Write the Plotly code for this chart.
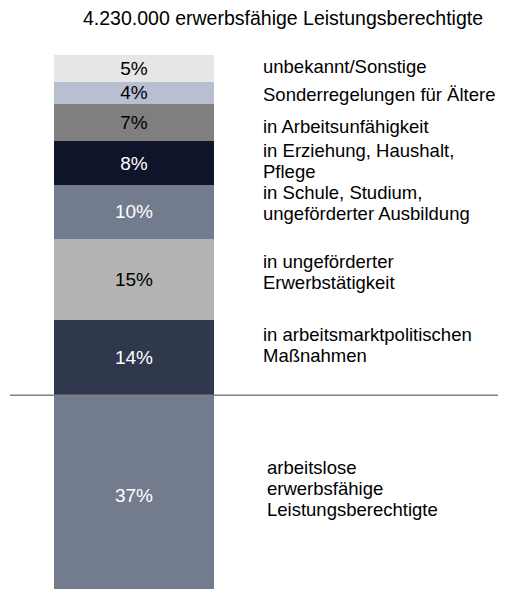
import plotly.graph_objects as go

# Data (bottom to top)
categories = [
    ["arbeitslose", "erwerbsfähige", "Leistungsberechtigte"],
    ["in arbeitsmarktpolitischen", "Maßnahmen"],
    ["in ungeförderter", "Erwerbstätigkeit"],
    ["in Schule, Studium,", "ungeförderter Ausbildung"],
    ["in Erziehung, Haushalt,", "Pflege"],
    ["in Arbeitsunfähigkeit"],
    ["Sonderregelungen für Ältere"],
    ["unbekannt/Sonstige"],
]
shares = [37, 14, 15, 10, 8, 7, 4, 5]
pct_labels = ["37%", "14%", "15%", "10%", "8%", "7%", "4%", "5%"]
title_text = "4.230.000 erwerbsfähige Leistungsberechtigte"

# Styles
colors = ["#737b8e", "#30384d", "#b3b3b3", "#737b8e", "#0e1429", "#7f7f7f", "#b8bfd1", "#e6e6e6"]
text_colors = ["white", "white", "black", "white", "white", "black", "black", "black"]
OFF = 8  # page body margin
label_x = [265, 261, 261, 261, 261, 261, 261, 261]
label_shift = [-7, -12, -7, -9, -2, 4, 2, -2]   # px offset from segment mid (negative = up)
LINE_H = 21

W, H = 506, 589
FONT = "Arial, Liberation Sans, sans-serif"
PX_PER_UNIT = 5.4
y_hi = 100 + (55 - OFF) / PX_PER_UNIT
y_lo = y_hi - H / PX_PER_UNIT

fig = go.Figure()
for lines, v, t, c, tc in zip(categories, shares, pct_labels, colors, text_colors):
    fig.add_trace(go.Bar(
        x=["bar"], y=[v], text=[t], name=" ".join(lines),
        marker=dict(color=c, line=dict(width=0)),
        textposition="inside", insidetextanchor="middle", textangle=0,
        constraintext="none",
        textfont=dict(color=tc, size=19, family=FONT),
        hoverinfo="skip",
    ))

cum = 0
annotations = []
for lines, v, lx, sh in zip(categories, shares, label_x, label_shift):
    mid = cum + v / 2
    cum += v
    n = len(lines)
    for i, ln in enumerate(lines):
        dy = sh + (i - (n - 1) / 2) * LINE_H
        annotations.append(dict(
            x=(lx - OFF) / W, xref="paper", y=mid, yref="y", yshift=-dy,
            text=ln, showarrow=False, xanchor="left", yanchor="middle", align="left",
            font=dict(size=18.5, color="black", family=FONT),
        ))
annotations.append(dict(
    x=(283 - OFF) / W, xref="paper", y=1 - (18 - OFF) / H, yref="paper", text=title_text,
    showarrow=False, xanchor="center", yanchor="middle",
    font=dict(size=19.5, color="black", family=FONT),
))

fig.add_shape(type="line", xref="paper", yref="y", x0=(10 - OFF) / W, x1=1, y0=shares[0], y1=shares[0],
              line=dict(color="#808080", width=1.5))

fig.update_layout(
    width=W, height=H, barmode="stack", showlegend=False,
    margin=dict(l=0, r=0, t=0, b=0),
    paper_bgcolor="white", plot_bgcolor="white",
    bargap=0.298,
    xaxis=dict(domain=[(20 - OFF) / W, (248 - OFF) / W], visible=False, fixedrange=True),
    yaxis=dict(range=[y_lo, y_hi], visible=False, fixedrange=True),
    annotations=annotations,
)

fig.write_html("out.html")
